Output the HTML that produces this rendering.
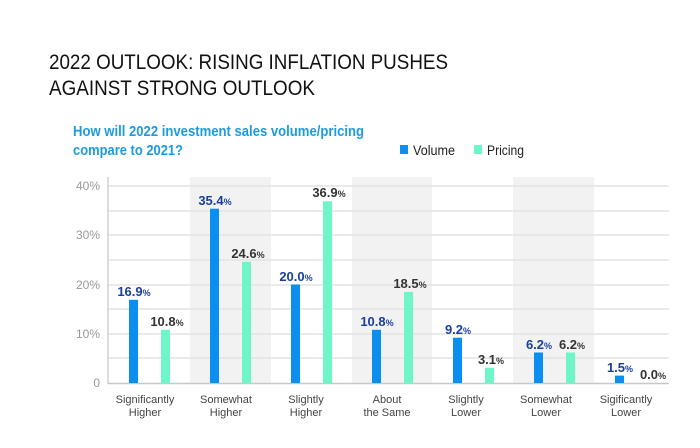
<!DOCTYPE html>
<html><head><meta charset="utf-8"><style>
html,body{margin:0;padding:0;background:#fff;}
svg{display:block;font-family:"Liberation Sans",sans-serif;}
</style></head><body>
<svg width="700" height="448" viewBox="0 0 700 448" xmlns="http://www.w3.org/2000/svg">
<rect width="700" height="448" fill="#fff"/>
<text x="49" y="69" font-size="21" fill="#111" textLength="399" lengthAdjust="spacingAndGlyphs">2022 OUTLOOK: RISING INFLATION PUSHES</text>
<text x="49" y="95" font-size="21" fill="#111" textLength="266" lengthAdjust="spacingAndGlyphs">AGAINST STRONG OUTLOOK</text>
<text x="73" y="136" font-size="15" font-weight="bold" fill="#1c9be0" textLength="291" lengthAdjust="spacingAndGlyphs">How will 2022 investment sales volume/pricing</text>
<text x="73" y="155" font-size="15" font-weight="bold" fill="#1c9be0" textLength="110" lengthAdjust="spacingAndGlyphs">compare to 2021?</text>
<rect x="400" y="145" width="8" height="9" fill="#0a8ef0"/>
<text x="413" y="155" font-size="14" fill="#222" textLength="42" lengthAdjust="spacingAndGlyphs">Volume</text>
<rect x="474" y="145" width="8" height="9" fill="#6ef5c8"/>
<text x="487" y="155" font-size="14" fill="#222" textLength="37" lengthAdjust="spacingAndGlyphs">Pricing</text>
<rect x="190" y="177" width="81" height="206" fill="#f2f2f2"/>
<rect x="352" y="177" width="80" height="206" fill="#f2f2f2"/>
<rect x="513" y="177" width="81" height="206" fill="#f2f2f2"/>
<g stroke="#e3e3e3" stroke-width="1.5">
<line x1="108" x2="669" y1="186" y2="186"/><line x1="108" x2="669" y1="211" y2="211"/>
<line x1="108" x2="669" y1="235" y2="235"/><line x1="108" x2="669" y1="260" y2="260"/>
<line x1="108" x2="669" y1="285" y2="285"/><line x1="108" x2="669" y1="309" y2="309"/>
<line x1="108" x2="669" y1="334" y2="334"/><line x1="108" x2="669" y1="358" y2="358"/>
</g>
<line x1="108" x2="108" y1="177" y2="384" stroke="#d0d0d0" stroke-width="1.5"/>
<line x1="108" x2="669" y1="383.5" y2="383.5" stroke="#c8c8c8" stroke-width="1.5"/>
<g font-size="12" fill="#999" text-anchor="end">
<text x="100" y="190">40%</text><text x="100" y="239">30%</text><text x="100" y="289">20%</text><text x="100" y="338">10%</text><text x="100" y="387">0</text>
</g>
<g fill="#0a8ef0">
<rect x="129" y="299.8" width="9" height="83.2"/>
<rect x="210" y="208.7" width="9" height="174.3"/>
<rect x="291" y="284.5" width="9" height="98.5"/>
<rect x="372" y="329.8" width="9" height="53.2"/>
<rect x="453" y="337.7" width="9" height="45.3"/>
<rect x="534" y="352.5" width="9" height="30.5"/>
<rect x="615" y="375.6" width="9" height="7.4"/>
</g>
<g fill="#6ef5c8">
<rect x="161" y="329.8" width="9" height="53.2"/>
<rect x="242" y="261.8" width="9" height="121.2"/>
<rect x="323" y="201.3" width="9" height="181.7"/>
<rect x="404" y="291.9" width="9" height="91.1"/>
<rect x="485" y="367.7" width="9" height="15.3"/>
<rect x="566" y="352.5" width="9" height="30.5"/>
</g>
<g font-size="13" font-weight="bold" fill="#1a3f9c" text-anchor="middle">
<text x="134" y="296">16.9<tspan font-size="9">%</tspan></text>
<text x="215" y="205">35.4<tspan font-size="9">%</tspan></text>
<text x="296" y="281">20.0<tspan font-size="9">%</tspan></text>
<text x="377" y="326">10.8<tspan font-size="9">%</tspan></text>
<text x="458" y="334">9.2<tspan font-size="9">%</tspan></text>
<text x="539" y="349">6.2<tspan font-size="9">%</tspan></text>
<text x="620" y="372">1.5<tspan font-size="9">%</tspan></text>
</g>
<g font-size="13" font-weight="bold" fill="#333" text-anchor="middle">
<text x="167" y="326">10.8<tspan font-size="9">%</tspan></text>
<text x="248" y="258">24.6<tspan font-size="9">%</tspan></text>
<text x="329" y="197">36.9<tspan font-size="9">%</tspan></text>
<text x="410" y="288">18.5<tspan font-size="9">%</tspan></text>
<text x="491" y="364">3.1<tspan font-size="9">%</tspan></text>
<text x="572" y="349">6.2<tspan font-size="9">%</tspan></text>
<text x="653" y="379">0.0<tspan font-size="9">%</tspan></text>
</g>
<g font-size="11" fill="#444" text-anchor="middle">
<text x="145" y="403">Significantly</text><text x="145" y="416">Higher</text>
<text x="226" y="403">Somewhat</text><text x="226" y="416">Higher</text>
<text x="306" y="403">Slightly</text><text x="306" y="416">Higher</text>
<text x="387" y="403">About</text><text x="387" y="416">the Same</text>
<text x="466" y="403">Slightly</text><text x="466" y="416">Lower</text>
<text x="546" y="403">Somewhat</text><text x="546" y="416">Lower</text>
<text x="626" y="403">Sigificantly</text><text x="626" y="416">Lower</text>
</g>
</svg>
</body></html>
